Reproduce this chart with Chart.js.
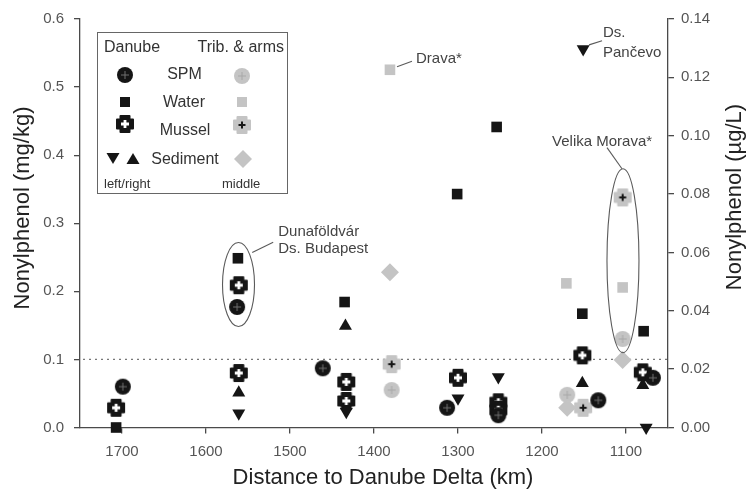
<!DOCTYPE html>
<html><head><meta charset="utf-8">
<script src="https://cdn.jsdelivr.net/npm/chart.js@4/dist/chart.umd.min.js"></script>
<style>html,body{margin:0;padding:0;background:#fff}#wrap{width:748px;height:491px;position:relative}</style>
</head><body><div id="wrap"><canvas id="c"></canvas></div>
<script>
// ---------- data ----------
const kmTicks = [1700, 1600, 1500, 1400, 1300, 1200, 1100];
const mgTicks = [0, 0.1, 0.2, 0.3, 0.4, 0.5, 0.6];
const ugTicks = [0, 0.02, 0.04, 0.06, 0.08, 0.10, 0.12, 0.14];
const threshold = 0.1;

const danSpmKm = [1699, 1563, 1461, 1313, 1252, 1133, 1068];
const danSpmVal = [0.060, 0.177, 0.087, 0.029, 0.018, 0.040, 0.073];
const danWaterKm = [1707, 1562, 1435, 1301, 1254, 1152, 1079];
const danWaterVal = [0.000, 0.058, 0.043, 0.080, 0.103, 0.039, 0.033];
const danMusselKm = [1707, 1561, 1561, 1433, 1433, 1300, 1252, 1252, 1152, 1080];
const danMusselVal = [0.029, 0.209, 0.080, 0.067, 0.039, 0.073, 0.037, 0.026, 0.106, 0.081];
const danSedLeftKm = [1561, 1433, 1300, 1252, 1151, 1076];
const danSedLeftVal = [0.021, 0.023, 0.043, 0.074, 0.556, 0.000];
const danSedRightKm = [1561, 1434, 1152, 1080];
const danSedRightVal = [0.051, 0.149, 0.065, 0.062];
const tribSpmKm = [1379, 1170, 1104];
const tribSpmVal = [0.055, 0.048, 0.130];
const tribWaterKm = [1381, 1171, 1104];
const tribWaterVal = [0.1226, 0.0494, 0.048];
const tribMusselKm = [1379, 1151, 1104];
const tribMusselVal = [0.093, 0.029, 0.338];
const tribSedKm = [1381, 1170, 1104];
const tribSedVal = [0.228, 0.029, 0.099];

// ---------- styles ----------
const FONT = '"Liberation Sans", Arial, Helvetica, sans-serif';
const BLACK = '#151515', GRAY = '#c4c4c4', AX = '#4a4a4a';

function mk(w, h, fn) { const c = document.createElement('canvas'); c.width = w; c.height = h; fn(c.getContext('2d'), w / 2, h / 2); return c; }
function crossPath(g, cx, cy, half, arm) {
  g.beginPath();
  g.moveTo(cx - arm, cy - half); g.lineTo(cx + arm, cy - half); g.lineTo(cx + arm, cy - arm);
  g.lineTo(cx + half, cy - arm); g.lineTo(cx + half, cy + arm); g.lineTo(cx + arm, cy + arm);
  g.lineTo(cx + arm, cy + half); g.lineTo(cx - arm, cy + half); g.lineTo(cx - arm, cy + arm);
  g.lineTo(cx - half, cy + arm); g.lineTo(cx - half, cy - arm); g.lineTo(cx - arm, cy - arm);
  g.closePath();
}
function circleImg(fill, plus) {
  return mk(18, 18, (g, cx, cy) => {
    g.fillStyle = fill; g.beginPath(); g.arc(cx, cy, 8, 0, Math.PI * 2); g.fill();
    g.strokeStyle = plus; g.lineWidth = 1; g.beginPath();
    g.moveTo(cx - 4, cy); g.lineTo(cx + 4, cy); g.moveTo(cx, cy - 4); g.lineTo(cx, cy + 4); g.stroke();
  });
}
const imgSpm = circleImg(BLACK, '#707070');
const imgSpmG = circleImg(GRAY, '#a8a8a8');
const imgMus = mk(20, 20, (g, cx, cy) => {
  g.fillStyle = BLACK; g.strokeStyle = BLACK; g.lineJoin = 'round'; g.lineWidth = 2;
  crossPath(g, cx, cy, 8, 4.5); g.fill(); g.stroke();
  g.fillStyle = '#fff'; crossPath(g, cx, cy, 4, 1.4); g.fill();
});
const imgMusG = mk(20, 20, (g, cx, cy) => {
  g.fillStyle = GRAY; g.strokeStyle = GRAY; g.lineJoin = 'round'; g.lineWidth = 2;
  crossPath(g, cx, cy, 8, 4.5); g.fill(); g.stroke();
  g.strokeStyle = BLACK; g.lineWidth = 2; g.beginPath();
  g.moveTo(cx - 3.5, cy); g.lineTo(cx + 3.5, cy); g.moveTo(cx, cy - 3.5); g.lineTo(cx, cy + 3.5); g.stroke();
});

const pts = (ks, vs) => ks.map((k, i) => ({ x: k, y: vs[i] }));
function ds(label, ks, vs, axis, extra) {
  return Object.assign({ label, data: pts(ks, vs), yAxisID: axis, clip: false, pointBorderWidth: 0 }, extra);
}

const datasets = [
  ds('Danube SPM', danSpmKm, danSpmVal, 'y', { pointStyle: imgSpm }),
  ds('Danube Mussel', danMusselKm, danMusselVal, 'y', { pointStyle: imgMus }),
  ds('Danube Sediment left', danSedLeftKm, danSedLeftVal, 'y', { pointStyle: 'triangle', rotation: 180, pointRadius: 7.5, backgroundColor: BLACK, borderColor: BLACK }),
  ds('Danube Sediment right', danSedRightKm, danSedRightVal, 'y', { pointStyle: 'triangle', pointRadius: 7.5, backgroundColor: BLACK, borderColor: BLACK }),
  ds('Danube Water', danWaterKm, danWaterVal, 'y2', { pointStyle: 'rect', pointRadius: 7.5, backgroundColor: BLACK, borderColor: BLACK }),
  ds('Trib. Mussel', tribMusselKm, tribMusselVal, 'y', { pointStyle: imgMusG }),
  ds('Trib. SPM', tribSpmKm, tribSpmVal, 'y', { pointStyle: imgSpmG }),
  ds('Trib. Water', tribWaterKm, tribWaterVal, 'y2', { pointStyle: 'rect', pointRadius: 7.5, backgroundColor: GRAY, borderColor: GRAY }),
  ds('Trib. Sediment', tribSedKm, tribSedVal, 'y', { pointStyle: 'rectRot', pointRadius: 9, backgroundColor: GRAY, borderColor: GRAY }),
];

// annotation anchors in data units (km, mg/kg)
const ellipses = [
  { km: 1561.3, v: 0.210, rx: 16, ry: 42 },
  { km: 1103.6, v: 0.245, rx: 16, ry: 92 },
];
const leaders = [
  [1545, 0.257, 1520, 0.272],
  [1122.6, 0.411, 1104.8, 0.380],
  [1372.6, 0.530, 1354.8, 0.538],
  [1144, 0.562, 1128.5, 0.568],
];
const notes = [
  { km: 1514, v: 0.288, text: 'Dunaföldvár' },
  { km: 1514, v: 0.263, text: 'Ds. Budapest' },
  { km: 1188, v: 0.420, text: 'Velika Morava*' },
  { km: 1350, v: 0.541, text: 'Drava*' },
  { km: 1127.4, v: 0.579, text: 'Ds.' },
  { km: 1127.4, v: 0.551, text: 'Pančevo' },
];

const decor = {
  id: 'decor',
  beforeDatasetsDraw(chart) {
    const { ctx, chartArea: a, scales: { y } } = chart;
    const py = y.getPixelForValue(threshold);
    ctx.save(); ctx.strokeStyle = '#777'; ctx.lineWidth = 1.2; ctx.setLineDash([2, 4]);
    ctx.beginPath(); ctx.moveTo(a.left + 3, py); ctx.lineTo(a.right, py); ctx.stroke(); ctx.restore();
  },
  afterDatasetsDraw(chart) {
    const { ctx, scales: { x, y } } = chart;
    ctx.save();
    ctx.strokeStyle = '#5a5a5a'; ctx.lineWidth = 1.1;
    ellipses.forEach(e => {
      ctx.beginPath(); ctx.ellipse(x.getPixelForValue(e.km), y.getPixelForValue(e.v), e.rx, e.ry, 0, 0, Math.PI * 2); ctx.stroke();
    });
    leaders.forEach(l => {
      ctx.beginPath(); ctx.moveTo(x.getPixelForValue(l[0]), y.getPixelForValue(l[1]));
      ctx.lineTo(x.getPixelForValue(l[2]), y.getPixelForValue(l[3])); ctx.stroke();
    });
    ctx.fillStyle = '#444'; ctx.font = '15px ' + FONT; ctx.textBaseline = 'middle'; ctx.textAlign = 'left';
    notes.forEach(n => ctx.fillText(n.text, x.getPixelForValue(n.km), y.getPixelForValue(n.v)));
    ctx.restore();
  },
  afterDraw(chart) {
    const ctx = chart.ctx;
    ctx.save();
    // legend box
    ctx.strokeStyle = '#666'; ctx.lineWidth = 1; ctx.strokeRect(97.5, 32.5, 190, 161);
    ctx.fillStyle = '#333'; ctx.font = '16px ' + FONT; ctx.textBaseline = 'middle';
    ctx.textAlign = 'left'; ctx.fillText('Danube', 104, 48);
    ctx.textAlign = 'right'; ctx.fillText('Trib. & arms', 284, 48);
    ctx.textAlign = 'center';
    ctx.fillText('SPM', 184.5, 75); ctx.fillText('Water', 184, 103); ctx.fillText('Mussel', 185, 131); ctx.fillText('Sediment', 185, 160);
    ctx.font = '13px ' + FONT; ctx.textAlign = 'left';
    ctx.fillText('left/right', 104, 184); ctx.fillText('middle', 222, 184);
    const img = (im, cx, cy) => ctx.drawImage(im, cx - im.width / 2, cy - im.height / 2);
    img(imgSpm, 125, 75); img(imgSpmG, 242, 76);
    ctx.fillStyle = BLACK; ctx.fillRect(120, 97, 10, 10);
    ctx.fillStyle = GRAY; ctx.fillRect(237, 97, 10, 10);
    img(imgMus, 125, 124); img(imgMusG, 242, 125);
    ctx.fillStyle = BLACK;
    ctx.beginPath(); ctx.moveTo(106.5, 153); ctx.lineTo(119.5, 153); ctx.lineTo(113, 164); ctx.closePath(); ctx.fill();
    ctx.beginPath(); ctx.moveTo(126.5, 164); ctx.lineTo(139.5, 164); ctx.lineTo(133, 153); ctx.closePath(); ctx.fill();
    ctx.fillStyle = GRAY;
    ctx.beginPath(); ctx.moveTo(243, 150); ctx.lineTo(252, 159); ctx.lineTo(243, 168); ctx.lineTo(234, 159); ctx.closePath(); ctx.fill();
    // axis titles
    ctx.fillStyle = '#222'; ctx.font = '22px ' + FONT; ctx.textAlign = 'center'; ctx.textBaseline = 'middle';
    ctx.fillText('Distance to Danube Delta (km)', 383, 478);
    ctx.save(); ctx.translate(23, 208); ctx.rotate(-Math.PI / 2); ctx.fillText('Nonylphenol (mg/kg)', 0, 0); ctx.restore();
    ctx.save(); ctx.translate(735, 197); ctx.rotate(-Math.PI / 2); ctx.fillText('Nonylphenol (µg/L)', 0, 0); ctx.restore();
    ctx.restore();
  }
};

const tickFont = { size: 15, family: FONT };
new Chart(document.getElementById('c'), {
  type: 'scatter',
  data: { datasets },
  plugins: [decor],
  options: {
    responsive: true, maintainAspectRatio: false, animation: false,
    layout: { padding: { top: 18, left: 0, right: 0, bottom: 0 } },
    plugins: { legend: { display: false }, tooltip: { enabled: false } },
    scales: {
      x: {
        type: 'linear', reverse: true, min: 1050, max: 1750,
        afterBuildTicks: s => { s.ticks = kmTicks.map(v => ({ value: v })); },
        afterFit: s => { s.height = 63.5; },
        grid: { drawOnChartArea: false, tickLength: 6, color: AX, lineWidth: 1.3 },
        border: { color: AX, width: 1.3 },
        ticks: { font: tickFont, color: '#555', padding: 9, autoSkip: false, maxRotation: 0, callback: v => String(v) }
      },
      y: {
        position: 'left', min: 0, max: 0.6,
        afterBuildTicks: s => { s.ticks = mgTicks.map(v => ({ value: v })); },
        afterFit: s => { s.width = 80; },
        grid: { drawOnChartArea: false, tickLength: 6, color: AX, lineWidth: 1.3 },
        border: { color: AX, width: 1.3 },
        ticks: { font: tickFont, color: '#555', padding: 10, callback: v => v.toFixed(1) }
      },
      y2: {
        position: 'right', min: 0, max: 0.14,
        afterBuildTicks: s => { s.ticks = ugTicks.map(v => ({ value: v })); },
        afterFit: s => { s.width = 80; },
        grid: { drawOnChartArea: false, tickLength: 6, color: AX, lineWidth: 1.3 },
        border: { color: AX, width: 1.3 },
        ticks: { font: tickFont, color: '#555', padding: 7, callback: v => v.toFixed(2) }
      }
    }
  }
});
</script></body></html>
